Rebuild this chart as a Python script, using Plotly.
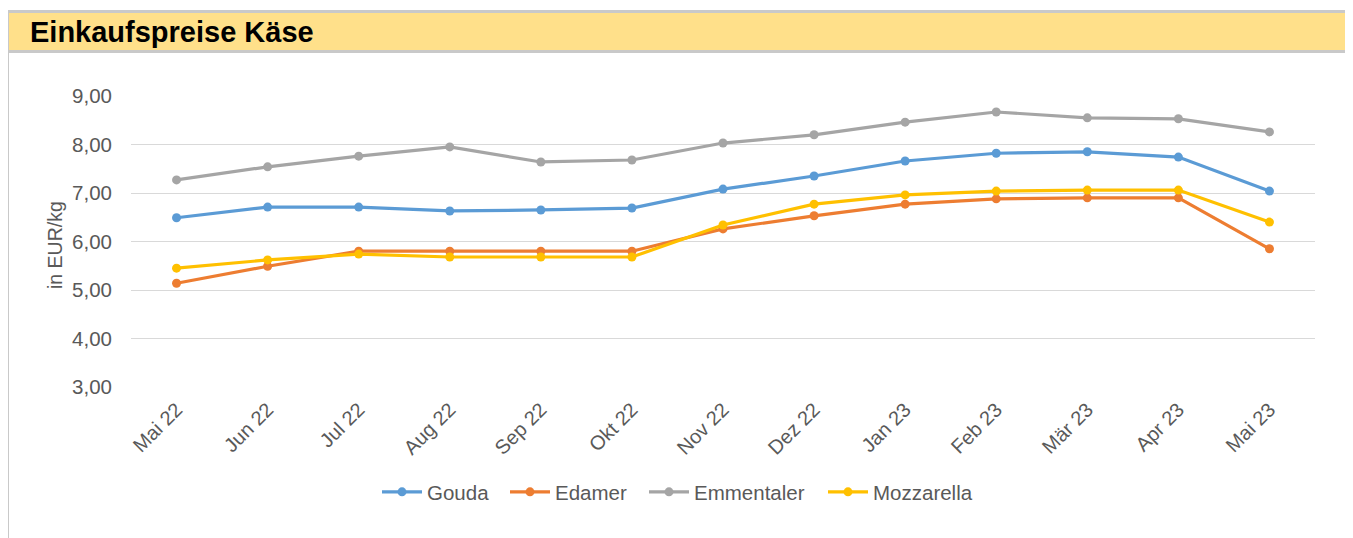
import plotly.graph_objects as go

months = ["Mai 22", "Jun 22", "Jul 22", "Aug 22", "Sep 22", "Okt 22", "Nov 22",
          "Dez 22", "Jan 23", "Feb 23", "Mär 23", "Apr 23", "Mai 23"]
gouda = [6.49, 6.71, 6.71, 6.63, 6.65, 6.69, 7.08, 7.35, 7.66, 7.82, 7.85, 7.74, 7.04]
edamer = [5.14, 5.49, 5.80, 5.80, 5.80, 5.80, 6.26, 6.53, 6.77, 6.88, 6.90, 6.90, 5.85]
emmentaler = [7.27, 7.54, 7.76, 7.95, 7.64, 7.68, 8.03, 8.20, 8.46, 8.67, 8.55, 8.53, 8.26]
mozzarella = [5.45, 5.62, 5.74, 5.68, 5.68, 5.68, 6.34, 6.77, 6.96, 7.04, 7.06, 7.06, 6.40]

series_names = ["Gouda", "Edamer", "Emmentaler", "Mozzarella"]
series_values = [gouda, edamer, emmentaler, mozzarella]
colors = ["#5B9BD5", "#ED7D31", "#A5A5A5", "#FFC000"]
y_ticks = [3, 4, 5, 6, 7, 8, 9]

# the page body adds an 8px offset; figure coordinates = screen coordinates - 8
OFF = 8
W, H = 1353 - OFF, 538 - OFF
L, R, T, B = 131 - OFF, 1315 - OFF, 96 - OFF, 387 - OFF


def px(x):
    return (x - OFF - L) / (R - L)


def py(y):
    return (B - (y - OFF)) / (B - T)


FONT = "Liberation Sans, Arial"
GRAY_TXT = "#595959"

legend_ids = ["legend", "legend2", "legend3", "legend4"]
legend_left = [385, 513, 652, 831]  # screen x where each legend entry starts

fig = go.Figure()
for name, vals, col, lid in zip(series_names, series_values, colors, legend_ids):
    fig.add_trace(go.Scatter(
        x=months, y=vals, name=name, mode="lines+markers",
        line=dict(color=col, width=3.2),
        marker=dict(color=col, size=9),
        legend=lid,
    ))

frame = "#C9C9C9"
shapes = [
    dict(type="rect", xref="paper", yref="paper", x0=px(8), x1=px(1347), y0=py(13), y1=py(50),
         fillcolor="#FFE08A", line=dict(width=0), layer="below"),
    dict(type="line", xref="paper", yref="paper", x0=px(7.5), x1=px(7.5), y0=py(10), y1=py(545),
         line=dict(color=frame, width=3)),
    dict(type="line", xref="paper", yref="paper", x0=px(1347.5), x1=px(1347.5), y0=py(10), y1=py(545),
         line=dict(color=frame, width=3)),
    dict(type="line", xref="paper", yref="paper", x0=px(6), x1=px(1349), y0=py(11.5), y1=py(11.5),
         line=dict(color=frame, width=3)),
    dict(type="line", xref="paper", yref="paper", x0=px(6), x1=px(1349), y0=py(51.5), y1=py(51.5),
         line=dict(color=frame, width=3)),
]

annotations = [
    dict(text="<b>Einkaufspreise Käse</b>", xref="paper", yref="paper", x=px(28), y=py(32),
         xanchor="left", yanchor="middle", showarrow=False,
         font=dict(family=FONT, size=29, color="#000000")),
    dict(text="in EUR/kg", xref="paper", yref="paper", x=px(55), y=py(245),
         xanchor="center", yanchor="middle", textangle=-90, showarrow=False,
         font=dict(family=FONT, size=19.5, color=GRAY_TXT)),
]

layout_legends = {}
for lid, lx in zip(legend_ids, legend_left):
    layout_legends[lid] = dict(
        orientation="h", x=px(lx - 8), xanchor="left", y=py(492), yanchor="middle",
        font=dict(size=20.5, color=GRAY_TXT), itemwidth=40, bgcolor="rgba(0,0,0,0)",
    )

fig.update_layout(
    width=W, height=H,
    margin=dict(l=L, r=W - R, t=T, b=H - B, pad=0),
    paper_bgcolor="white", plot_bgcolor="white",
    separators=",.",
    font=dict(family=FONT, size=20, color=GRAY_TXT),
    showlegend=True,
    shapes=shapes,
    annotations=annotations,
    xaxis=dict(type="category", range=[-0.5, 12.5], tickangle=-45, showgrid=False,
               showline=False, zeroline=False, ticks="", ticklabelstandoff=6,
               tickfont=dict(size=20, color=GRAY_TXT)),
    yaxis=dict(range=[3, 9], tickvals=y_ticks, tickformat=".2f", showgrid=True,
               gridcolor="#D9D9D9", gridwidth=1.3, zeroline=False, showline=False, ticks="",
               ticklabelstandoff=18, tickfont=dict(size=20.5, color=GRAY_TXT)),
    **layout_legends,
)

fig.write_html("out.html")
